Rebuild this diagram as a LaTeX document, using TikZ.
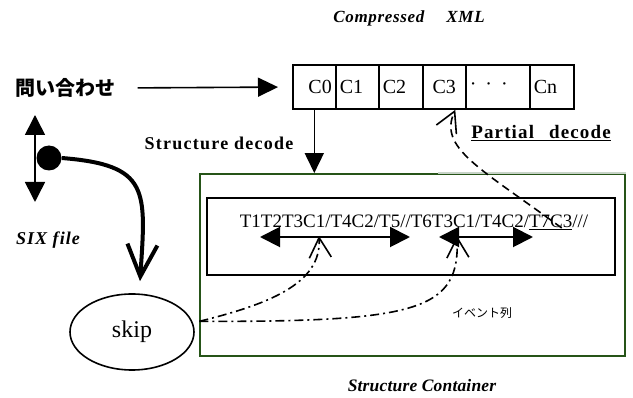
\documentclass[tikz,border=0pt]{standalone}
\usepackage{fontspec}
\setmainfont{Liberation Serif}
\newfontfamily\jpfont{Noto Sans CJK JP}
\usetikzlibrary{arrows.meta, shapes.geometric}

\begin{document}
\begin{tikzpicture}[x=1pt, y=-1pt,
    cell/.style={draw, line width=1.6pt, anchor=west, minimum height=44pt,
      inner xsep=4pt, inner ysep=0pt, font=\fontsize{20}{22}\selectfont},
    boldlbl/.style={font=\bfseries\fontsize{18}{20}\selectfont\addfontfeature{LetterSpace=7}},
    itlbl/.style={font=\bfseries\itshape\fontsize{17}{19}\selectfont\addfontfeature{LetterSpace=4}},
    fat/.style={-{Triangle[length=20pt,width=19pt]}, line width=1.6pt},
    fatboth/.style={{Triangle[length=20pt,width=20pt]}-{Triangle[length=20pt,width=20pt]}, line width=2pt},
    dashdot/.style={-{Straight Barb[length=20pt,width=22pt]}, line width=1.6pt,
      dash pattern=on 9pt off 4pt on 2pt off 4pt},
    dashlink/.style={-{Straight Barb[length=20pt,width=22pt]}, line width=1.6pt,
      dash pattern=on 8pt off 5pt}]
  \definecolor{boxgreen}{RGB}{38,84,24}
  \definecolor{faint}{RGB}{200,212,200}
  \useasboundingbox (0,0) rectangle (633,398);

  % compressed stream
  \node[itlbl] (title) at (409,18) {Compressed\hspace{22pt}XML};
  \foreach \nm/\xa/\xb/\txt/\al in {c0/292/335/C0/right, c1/335/378/C1/left,
      c2/378/422/C2/left, c3/422/465/C3/center,
      cdots/465/529/{·\hspace{9pt}·\hspace{9pt}·}/left, cn/529/573/Cn/left} {
    \pgfmathsetmacro{\tw}{\xb-\xa-8}
    \node[cell, text width=\tw pt, align=\al] (\nm) at (\xa,87) {\txt};
  }

  \node[font=\jpfont\bfseries\fontsize{20}{22}\selectfont] (query) at (66,88) {問い合わせ};
  \draw[fat, shorten <=18pt, shorten >=14pt] (query.east) -- (c0.west);

  % structure container
  \node[draw=boxgreen, line width=1.8pt, minimum width=425pt, minimum height=182pt,
    inner sep=0pt] (container) at (412.5,265) {};
  \draw[faint, line width=1.8pt] ([xshift=25.5pt]container.north) -- (container.north east);
  \node[draw, line width=1.6pt, minimum width=408pt, minimum height=77pt,
    inner sep=0pt] (events) at (411,236.5) {};
  \node[font=\fontsize{19}{21}\selectfont] (seq) at (414,222)
    {T1T2T3C1/T4C2/T5//T6T3C1/T4C2/\underline{T7C3}///};

  \coordinate (a1) at (260,237);
  \coordinate (a2) at (410,237);
  \coordinate (b1) at (439,237);
  \coordinate (b2) at (533,237);
  \coordinate (hit1) at (319,236);
  \coordinate (hit2) at (457,236);
  \draw[fatboth] (a1) -- (a2);
  \draw[fatboth] (b1) -- (b2);

  \draw[fat] (c0.south) -- (c0.south |- container.north);
  \node[boldlbl] (sdec) at (219,143) {Structure decode};
  \node[font=\bfseries\fontsize{19}{21}\selectfont\addfontfeature{LetterSpace=6}] (pdec) at (541,133)
    {\underline{Partial\hspace{15pt}decode}};

  \draw[dashlink] (seq.east) ++(-30pt,-6pt) coordinate (t7c3)
    .. controls (480,168) and (438,148) .. ([xshift=11pt]c3.south);

  \node[font=\jpfont\fontsize{12}{14}\selectfont] (evlbl) at (482,313) {イベント列};
  \node[itlbl, font=\bfseries\itshape\fontsize{17.5}{19}\selectfont\addfontfeature{LetterSpace=1}]
    (scont) at (422,386) {Structure Container};

  % SIX file side
  \coordinate (sixtop) at (35,115);
  \coordinate (sixbot) at (35,202);
  \draw[fatboth, line width=1.6pt] (sixtop) -- (sixbot);
  \node[circle, fill, minimum size=25pt, inner sep=0pt] (dot) at (49,158) {};
  \node[itlbl, font=\bfseries\itshape\fontsize{18}{20}\selectfont\addfontfeature{LetterSpace=6}]
    (six) at (48,240) {SIX file};

  \node[ellipse, draw, line width=1.6pt, minimum width=124pt, minimum height=76pt,
    inner sep=0pt, font=\fontsize{24}{26}\selectfont] (skip) at (132,332) {skip};
  \draw[line width=4pt, -{Straight Barb[length=32pt,width=30pt]}]
    (dot.east) .. controls (150,165) and (146,190) .. ([shift={(8,-12)}]skip.north);

  \draw[dashdot] ([xshift=7pt]skip.10) .. controls (265,305) and (322,285) .. (hit1);
  \draw[dashdot] ([xshift=7pt]skip.10) .. controls (420,322) and (460,310) .. (hit2);
\end{tikzpicture}
\end{document}
